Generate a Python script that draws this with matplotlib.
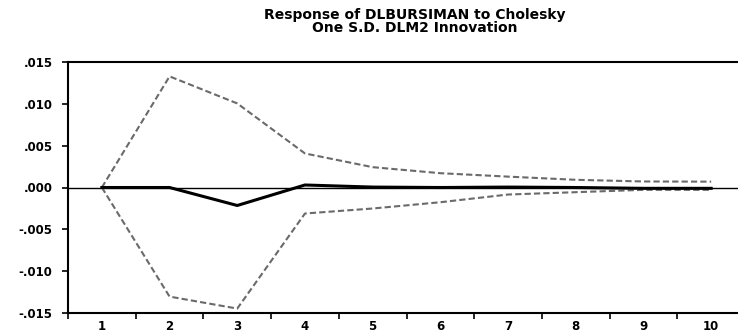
import matplotlib
matplotlib.use("Agg")
import matplotlib.pyplot as plt
import numpy as np

plt.rcParams["font.family"] = ["DejaVu Sans"]

periods = np.arange(1, 11)
response = [0.0, 0.0, -0.00215, 0.0003, 0.00005, 0.0, 0.00005, 0.0, -0.0001, -0.0001]
upper_band = [0.0, 0.01328, 0.01005, 0.00407, 0.00243, 0.00171, 0.0013, 0.00092, 0.00072, 0.0007]
lower_band = [0.0, -0.01304, -0.01447, -0.00311, -0.00251, -0.00176, -0.00084, -0.00056, -0.00028, -0.00028]

y_ticks = [0.015, 0.010, 0.005, 0.0, -0.005, -0.010, -0.015]
y_tick_labels = [".015", ".010", ".005", ".000", "-.005", "-.010", "-.015"]

W, H = 738, 336
fig = plt.figure(figsize=(W / 100, H / 100), dpi=100, facecolor="white")
# axes runs a little past the right edge of the canvas
left, right, top, bottom = 68, 745, 62, 313
ax = fig.add_axes([left / W, 1 - bottom / H, (right - left) / W, (bottom - top) / H])

ax.axhline(0, color="black", linewidth=1.0, zorder=1)
ax.plot(periods, upper_band, color="#6a6a6a", linewidth=1.5, linestyle=(0, (3, 1.5)), zorder=2)
ax.plot(periods, lower_band, color="#6a6a6a", linewidth=1.5, linestyle=(0, (3, 1.5)), zorder=2)
ax.plot(periods, response, color="black", linewidth=2.2, zorder=3)

ax.set_xlim(0.5, 10.5)
ax.set_ylim(-0.015, 0.015)
ax.set_xticks(np.arange(0.5, 10.6, 1.0))
ax.set_xticklabels([])
ax.set_xticks(periods, minor=True)
ax.set_xticklabels([str(p) for p in periods], minor=True, fontsize=8.5, fontweight="bold")
ax.tick_params(axis="x", which="minor", length=0, pad=5)
ax.tick_params(axis="x", which="major", length=4, width=1.2, direction="out")
ax.set_yticks(y_ticks)
ax.set_yticklabels(y_tick_labels, fontsize=8.5, fontweight="bold")
ax.tick_params(axis="y", length=4, width=1.2, direction="out", pad=7)

for side in ("left", "bottom", "top"):
    ax.spines[side].set_linewidth(1.5)
ax.spines["right"].set_visible(False)

fig.text(415 / W, 1 - 15 / H, "Response of DLBURSIMAN to Cholesky", ha="center", va="center",
         fontsize=10, fontweight="bold")
fig.text(415 / W, 1 - 28 / H, "One S.D. DLM2 Innovation", ha="center", va="center",
         fontsize=10, fontweight="bold")

fig.savefig("out.png", dpi=100, facecolor="white")
